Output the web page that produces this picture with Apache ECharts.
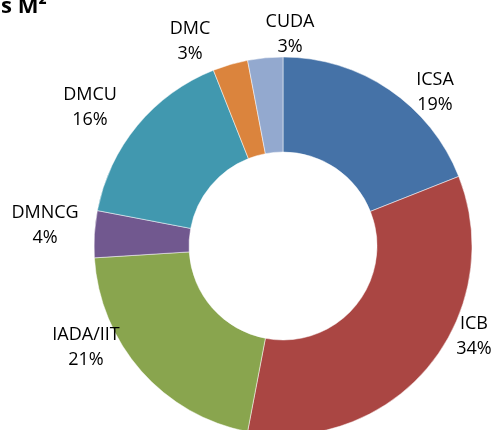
<!DOCTYPE html>
<html>
<head>
<meta charset="utf-8">
<script src="https://cdn.jsdelivr.net/npm/echarts@6/dist/echarts.min.js"></script>
<style>
  html, body { margin: 0; padding: 0; background: #fff; }
  #chart { width: 496px; height: 430px; }
</style>
</head>
<body>
<div id="chart"></div>
<script>
// slices, clockwise from 12 o'clock
var categories = ['ICSA', 'ICB', 'IADA/IIT', 'DMNCG', 'DMCU', 'DMC', 'CUDA'];
var shares = [19, 34, 21, 4, 16, 3, 3];
var sliceColors = ['#4572A7', '#AA4643', '#89A54E', '#71588F', '#4198AF', '#DB843D', '#93A9CF'];

// where the label text sits (centre of the two-line block)
var labelAt = [[435, 92], [474, 336], [86, 347], [45, 225], [90, 107], [190, 41], [290, 34]];

var pieData = [];
for (var i = 0; i < categories.length; i++) {
	pieData.push({ name: categories[i], value: shares[i], itemStyle: { color: sliceColors[i] } });
}

var myCharts = echarts.init(document.getElementById('chart'));
var option = {
	animation: false,
	title: {
		text: 's M\u00B2',
		left: -4,
		top: -9,
		textStyle: { fontFamily: 'Open Sans', fontWeight: 'bold', fontSize: 22, color: '#000' }
	},
	series: [{
		type: 'pie',
		center: [283, 246],
		radius: [94, 189],
		startAngle: 90,
		clockwise: true,
		avoidLabelOverlap: false,
		itemStyle: { borderColor: 'rgba(255,255,255,0.7)', borderWidth: 0.7 },
		label: {
			show: true,
			position: 'outside',
			fontFamily: 'Open Sans',
			fontSize: 18,
			lineHeight: 25,
			color: '#000',
			align: 'center',
			formatter: function (p) { return p.name + '\n' + Math.round(p.percent) + '%'; }
		},
		labelLine: { show: false },
		labelLayout: function (params) {
			var p = labelAt[params.dataIndex];
			return { x: p[0], y: p[1], align: 'center', verticalAlign: 'middle' };
		},
		emphasis: { disabled: true },
		data: pieData
	}]
};
myCharts.setOption(option);
</script>
</body>
</html>
